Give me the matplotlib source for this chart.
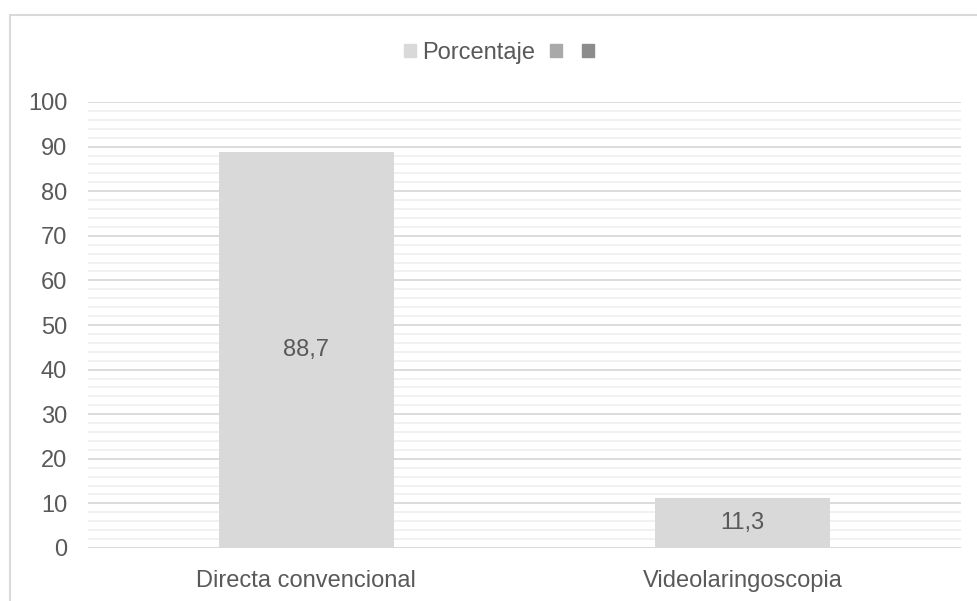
import matplotlib
matplotlib.use("Agg")
import matplotlib.pyplot as plt
from matplotlib.patches import Patch, Rectangle
from matplotlib.ticker import MultipleLocator

categories = ["Directa convencional", "Videolaringoscopia"]
porcentaje = [88.7, 11.3]
legend_labels = ["Porcentaje", "", ""]
y_ticks = list(range(0, 101, 10))

plt.rcParams["font.family"] = ["Liberation Sans", "DejaVu Sans"]
text_color = "#595959"
fs = 17

W, H = 977, 601
fig = plt.figure(figsize=(W / 100, H / 100), dpi=100)
ax = fig.add_axes([88 / W, 1 - 548 / H, (961 - 88) / W, (548 - 102) / H])

# outer chart frame (left and top edges visible)
fig.patches.append(Rectangle((9.5 / W, -0.5), 2, 1.5 - 14.5 / H, transform=fig.transFigure,
                             fill=False, edgecolor="#D9D9D9", linewidth=1.5))

x = range(len(categories))
bars = ax.bar(x, porcentaje, width=0.4, color="#D9D9D9", zorder=3)
for b, v in zip(bars, porcentaje):
    ax.text(b.get_x() + b.get_width() / 2, v / 2, f"{v:.1f}".replace(".", ","),
            ha="center", va="center", fontsize=fs, color=text_color, zorder=4)

ax.set_xlim(-0.5, len(categories) - 0.5)
ax.set_ylim(0, 100)
ax.set_yticks(y_ticks)
ax.yaxis.set_minor_locator(MultipleLocator(2))
ax.set_xticks(list(x))
ax.set_xticklabels(categories)
ax.grid(axis="y", which="major", color="#D9D9D9", linewidth=1.3, zorder=0)
ax.grid(axis="y", which="minor", color="#F0F0F0", linewidth=1.3, zorder=0)
ax.tick_params(axis="both", which="both", length=0, labelsize=fs, colors=text_color)
ax.tick_params(axis="y", pad=15)
ax.tick_params(axis="x", pad=16)
for s in ax.spines.values():
    s.set_visible(False)
ax.axhline(0, color="#D9D9D9", linewidth=1.3, zorder=2)

handles = [Patch(color=c) for c in ["#D9D9D9", "#A9A9A9", "#8C8C8C"]]
fig.legend(handles, legend_labels, loc="center", bbox_to_anchor=(0.514, 1 - 53 / H),
           ncol=3, frameon=False, fontsize=fs, labelcolor=text_color,
           handlelength=0.5, handleheight=0.5, handletextpad=0.25, columnspacing=0.62)

fig.savefig("out.png", dpi=100)
